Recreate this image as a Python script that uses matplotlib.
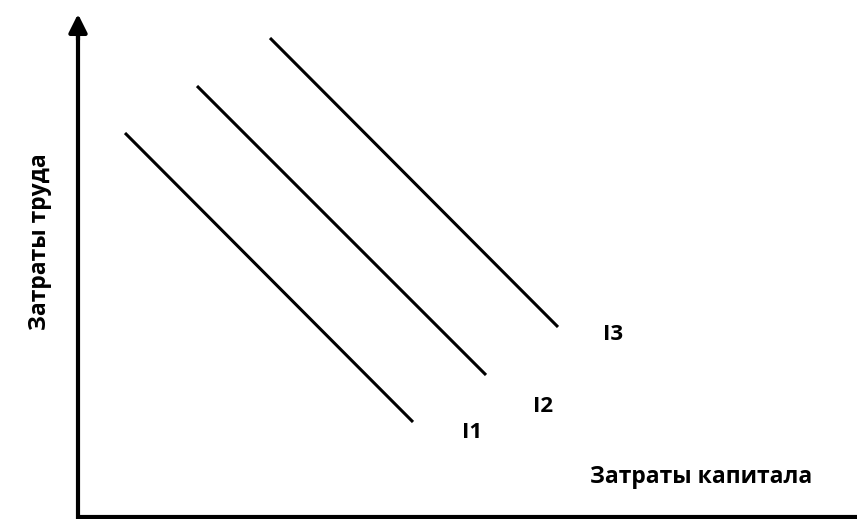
import matplotlib
matplotlib.use("Agg")
import matplotlib.pyplot as plt

# isoquant segments (start/end), in chart units
curve_names = ["I1", "I2", "I3"]
x_start = [125, 197, 270]
y_start = [133, 86, 38]
x_end = [413, 486, 558]
y_end = [422, 375, 327]
label_x = [472, 543, 613]
label_y = [432, 407, 334]

x_label = "Затраты капитала"
y_label = "Затраты труда"

plt.rcParams['font.family'] = ['Open Sans', 'DejaVu Sans']

fig = plt.figure(figsize=(8.57, 5.19), dpi=100)
ax = fig.add_axes([0, 0, 1, 1])
ax.set_xlim(0, 857)
ax.set_ylim(519, 0)
ax.axis("off")

# axes
ax.plot([78, 857], [517, 517], color="black", lw=3.0, solid_capstyle="butt")
ax.plot([78, 78], [519, 28], color="black", lw=3.0, solid_capstyle="butt")
ax.annotate("", xy=(78, 14), xytext=(78, 40),
            arrowprops=dict(arrowstyle="-|>,head_width=0.55,head_length=1.1",
                            color="black", lw=3.0, shrinkA=0, shrinkB=0))

for name, x0, y0, x1, y1, lx, ly in zip(curve_names, x_start, y_start, x_end, y_end, label_x, label_y):
    ax.plot([x0, x1], [y0, y1], color="black", lw=2.2, solid_capstyle="butt")
    ax.text(lx, ly, name, fontsize=16, fontweight="bold", ha="center", va="center")

ax.text(701, 477, x_label, fontsize=16.5, fontweight="bold", ha="center", va="center")
ax.text(40, 242, y_label, fontsize=16.5, fontweight="bold", ha="center", va="center",
        rotation=90)

fig.savefig("out.png", dpi=100)
